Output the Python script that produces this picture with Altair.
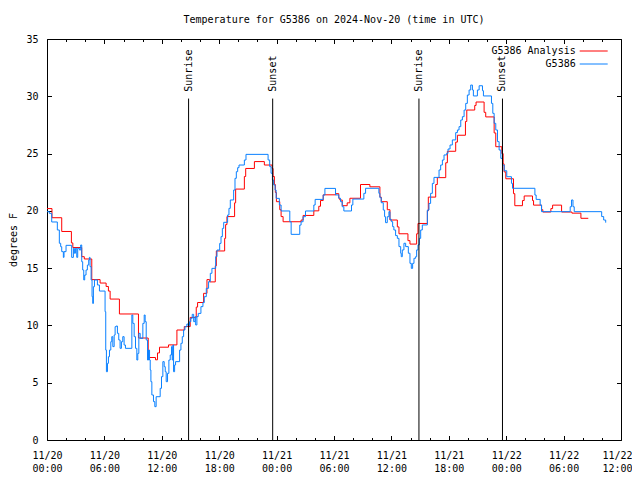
import altair as alt
import pandas as pd

FONT = "DejaVu Sans Mono"
TITLE = "Temperature for G5386 on 2024-Nov-20 (time in UTC)"
Y_TITLE = "degrees F"

series_names = ["G5386 Analysis", "G5386"]
series_colors = ["#ff0000", "#0a80ff"]

# hours since 2024-11-20 00:00 UTC, temperature in degrees F (step changes)
red_hours = [0, 0.52, 1.54, 2.55, 2.7, 3.63, 3.9, 4.68, 5.55, 6.18, 6.42, 6.6, 7.57, 9.56,
             10.58, 11.34, 11.55, 11.76, 12.7, 13.58, 14.35, 14.97, 15.6, 15.74, 16.37, 16.72,
             17.0, 17.59, 17.7, 18.57, 18.67, 18.81, 19.61, 19.72, 20.63, 20.77, 21.68, 22.72,
             23.53, 23.63, 23.77, 23.87, 23.98, 24.33, 24.47, 24.68, 26.56, 26.77, 27.89, 28.41,
             28.59, 28.87, 30.19, 30.5, 30.61, 30.86, 31.38, 31.66, 32.77, 33.75, 34.8, 34.94,
             35.57, 35.85, 36.62, 36.79, 37.73, 37.94, 38.64, 38.78, 39.76, 39.86, 40.63, 40.8,
             41.68, 41.85, 42.72, 42.9, 43.74, 43.88, 44.71, 44.85, 45.69, 45.86, 46.74, 46.91,
             47.54, 47.68, 47.78, 47.96, 48.76, 48.9, 49.7, 49.88, 50.75, 50.86, 51.7, 51.83,
             52.67, 52.85, 53.79, 54.87, 55.81, 56.58]
red_temps = [20.2, 19.4, 18.2, 17.2, 16.8, 16.0, 15.8, 14.0, 13.7, 13.4, 13.0, 12.3, 11.0, 8.9,
             7.2, 7.0, 7.6, 8.1, 8.3, 9.6, 9.9, 10.7, 11.6, 12.0, 12.8, 14.0,
             13.8, 15.2, 16.5, 17.6, 18.8, 19.5, 20.7, 21.9, 23.0, 23.7, 24.3, 24.0,
             23.7, 23.0, 22.3, 21.6, 20.8, 20.1, 19.5, 19.05, 19.2, 19.6, 20.0, 20.4,
             20.9, 21.4, 21.5, 21.1, 20.95, 20.45, 20.7, 21.1, 22.3, 22.1, 21.2, 20.8,
             20.1, 19.2, 18.6, 18.0, 17.4, 17.1, 18.0, 18.9, 20.0, 21.2, 22.3, 22.9,
             24.2, 25.2, 26.0, 26.6, 27.8, 28.8, 29.2, 29.5, 28.6, 28.2, 26.8, 25.6,
             25.0, 24.1, 23.4, 22.8, 21.5, 20.45, 20.9, 21.3, 20.9, 20.5, 20.1, 19.9,
             20.2, 20.5, 19.9, 19.8, 19.35, 19.35]

blue_hours = [0, 0.24, 0.49, 1.08, 1.29, 1.43, 1.54, 1.71, 1.78, 1.99, 2.58, 2.76, 2.86, 2.97,
              3.11, 3.21, 3.39, 3.52, 3.63, 3.73, 3.84, 3.94, 4.08, 4.22, 4.36, 4.43, 4.5, 4.61,
              4.71, 4.78, 4.85, 4.96, 5.27, 5.48, 6.07, 6.14, 6.21, 6.32, 6.42, 6.53, 6.67, 6.77,
              6.88, 7.02, 7.12, 7.23, 7.36, 7.5, 7.64, 7.78, 7.92, 8.06, 8.2, 8.87, 8.97, 9.11,
              9.25, 9.39, 9.49, 9.6, 9.74, 10.02, 10.16, 10.26, 10.37, 10.51, 10.61, 10.72, 10.79,
              10.86, 10.96, 11.13, 11.27, 11.41, 11.83, 11.97, 12.11, 12.25, 12.36, 12.46, 12.6,
              12.74, 12.88, 13.02, 13.09, 13.16, 13.23, 13.34, 13.44, 13.86, 14.0, 14.14, 14.28,
              14.42, 14.62, 14.76, 14.9, 15.04, 15.18, 15.33, 15.47, 15.54, 15.67, 15.81,
              16.09, 16.3, 16.44, 16.65, 16.89, 17.07, 17.24, 17.63, 17.77, 18.05, 18.19, 18.33,
              18.47, 18.88, 19.02, 19.16, 19.51, 19.65, 19.79, 19.93, 20.07, 20.63, 20.8, 23.11,
              23.28, 23.42, 23.56, 23.7, 23.84, 23.95, 24.29, 24.47, 25.38, 25.52, 26.42, 26.56,
              26.77, 27.02, 27.89, 28.03, 28.87, 29.05,
              30.16, 30.5, 30.68, 30.86, 31.03, 31.83, 31.97, 33.12, 33.3, 34.69, 34.8, 34.94,
              35.15, 35.29, 35.39, 35.57, 35.74, 35.85, 35.99, 36.13, 36.26, 36.44, 36.62, 36.79,
              36.97, 37.03, 37.14, 37.31, 37.49, 37.77, 37.94, 38.08, 38.22, 38.36, 38.53, 38.64,
              38.78, 38.92, 39.06, 39.23, 39.76, 39.93, 40.1, 40.28, 40.45, 40.98, 41.15, 41.33,
              41.5, 41.78, 41.92, 42.13, 42.37, 42.72, 42.9, 43.07, 43.25, 43.42, 43.6, 43.77,
              43.94, 44.12, 44.29, 44.47, 44.57, 44.99, 45.17, 45.52, 45.62, 46.46, 46.6, 46.74,
              46.91, 47.09, 47.26, 47.44, 47.61, 47.79, 48.06, 48.55, 48.66, 51.0, 51.13, 51.55,
              51.69, 54.69, 54.83, 54.98, 55.11, 57.98, 58.19, 58.4]
blue_temps = [19.93, 19.78, 19.03, 18.33, 17.17, 16.87, 16.44, 15.94, 16.44, 16.99, 15.94, 16.73, 16.3, 16.73,
              15.94, 16.73, 16.58, 17.02, 15.56, 14.84, 13.97, 14.4, 14.84, 15.27, 15.71, 15.94, 15.13, 13.97,
              12.51, 11.92, 13.38, 13.97, 13.53, 13.0, 11.2, 7.85, 5.96, 6.69, 7.27, 7.85, 8.58, 9.02,
              8.15, 9.16, 9.89, 9.95, 9.31, 8.73, 8.0, 8.58, 9.02, 8.29, 8.0, 10.91, 10.18, 9.02,
              8.0, 6.98, 7.56, 9.31, 8.87, 10.18, 10.91, 10.33, 8.73, 6.98, 7.85, 6.98, 6.11,
              5.09, 3.93, 3.35, 2.91, 3.78, 4.51, 5.53, 6.84, 6.4, 5.96, 5.09, 5.82,
              6.98, 7.42, 8.15, 6.98, 8.29, 5.96, 6.55, 6.84, 7.85, 8.44, 9.02, 9.6,
              9.89, 10.12, 9.98, 10.33, 10.62, 10.97, 10.33, 10.77, 10.04, 10.77, 11.05,
              11.64, 11.99, 12.51, 13.24, 13.82, 14.55, 14.98, 16.0, 16.58, 17.16, 17.75, 18.47,
              19.0, 19.64, 20.22, 20.95, 21.82, 22.84, 23.42, 23.77, 24.0, 24.44, 24.93, 24.44,
              23.86, 23.28, 22.69, 22.26, 21.82, 21.09, 20.51, 19.99, 19.05, 17.95, 18.76, 19.05,
              19.49, 19.99, 20.51, 21.0, 21.38, 21.96,
              21.39, 21.1, 20.8, 20.36, 19.99, 20.51, 21.03, 21.53, 21.97, 21.53, 21.15, 20.71,
              20.07, 19.49, 18.97, 19.49, 19.93, 19.26, 19.06, 18.62, 18.33, 17.84, 17.6, 16.88,
              16.3, 16.0, 16.59, 17.17, 16.88, 16.3, 15.42, 14.98, 15.42, 15.86, 16.0, 16.59,
              17.03, 17.6, 18.33, 18.77, 20.07, 20.65, 21.53, 22.4, 22.92, 23.57, 24.0, 24.44,
              24.88, 25.02, 25.4, 25.75, 26.19, 26.83, 27.06, 27.35, 27.93, 28.22, 28.8, 29.38,
              30.11, 30.55, 30.98, 30.55, 30.03, 30.55, 30.92, 30.49, 30.03, 29.38, 28.51, 27.64,
              27.06, 26.04, 25.31, 24.58, 24.0, 23.5, 22.98, 22.4, 21.97, 21.38, 21.0, 20.51,
              19.93, 20.36, 20.95, 20.36, 19.93, 19.5, 19.2, 18.97]

sun_events = ["Sunrise", "Sunset", "Sunrise", "Sunset"]
sun_hours = [14.8, 23.59, 38.88, 47.61]
sun_line_top = 29.8
sun_label_y = 30.4

x_label_ticks = list(range(0, 61, 6))
x_minor_ticks = list(range(0, 61, 2))
y_ticks = list(range(0, 36, 5))

W, H = 574, 401

df = pd.concat([
    pd.DataFrame({"hours": red_hours, "temp": red_temps, "series": series_names[0]}),
    pd.DataFrame({"hours": blue_hours, "temp": blue_temps, "series": series_names[1]}),
], ignore_index=True)
sun_df = pd.DataFrame({"hours": sun_hours, "event": sun_events,
                       "base": 0.0, "top": sun_line_top, "label_y": sun_label_y})

xscale = alt.Scale(domain=[0, 60], nice=False, zero=False)
yscale = alt.Scale(domain=[0, 35], nice=False, zero=True)

major_minor = {"condition": {"test": "datum.value % 6 === 0", "value": 4.5}, "value": 2.5}
last_label_shift = {"condition": {"test": "datum.value >= 60", "value": -4}, "value": 0}

label_expr = ("['11/' + (20 + floor(datum.value / 24)), "
              "(datum.value % 24 < 10 ? '0' : '') + (datum.value % 24) + ':00']")

color = alt.Color(
    "series:N",
    scale=alt.Scale(domain=series_names, range=series_colors),
    sort=series_names,
    legend=alt.Legend(
        title=None, orient="none", legendX=518.7, legendY=7, padding=0,
        symbolType="M4.5,0H18.5", symbolSize=16, symbolStrokeWidth=1,
        labelAlign="right", labelOffset=0, rowPadding=3,
        labelFont=FONT, labelFontSize=10, labelColor="black",
    ),
)

base = alt.Chart(df)

red = base.transform_filter(alt.datum.series == series_names[0]).mark_line(
    interpolate="step-after", strokeWidth=1
).encode(
    x=alt.X("hours:Q", scale=xscale, axis=alt.Axis(
        values=x_label_ticks, labelExpr=label_expr, ticks=False, domain=False, grid=False,
        labelPadding=10, labelLineHeight=13, labelBaseline="top", title=None,
        labelFlush=False, labelOverlap=False, labelOffset=last_label_shift)),
    y=alt.Y("temp:Q", scale=yscale, axis=alt.Axis(
        values=y_ticks, ticks=False, domain=False, grid=False, labelPadding=9,
        title=Y_TITLE, titleX=-34, titleY=H / 2, titleAngle=270, titleAlign="center",
        titleBaseline="middle", labelFlush=False)),
    color=color,
)

blue = base.transform_filter(alt.datum.series == series_names[1]).mark_line(
    interpolate="step-after", strokeWidth=1
).encode(
    x=alt.X("hours:Q", scale=xscale, axis=alt.Axis(
        orient="top", offset=-H, values=x_minor_ticks, labels=False, domain=False,
        grid=False, title=None, tickSize=major_minor, tickColor="black")),
    y=alt.Y("temp:Q", scale=yscale, axis=alt.Axis(
        orient="right", offset=-W, values=y_ticks, labels=False, domain=False,
        grid=False, title=None, tickSize=4.5, tickColor="black")),
    color=color,
)

rules = alt.Chart(sun_df).mark_rule(color="black", strokeWidth=1).encode(
    x=alt.X("hours:Q", scale=xscale, axis=alt.Axis(
        orient="bottom", offset=-H, values=x_minor_ticks, labels=False, domain=False,
        grid=False, title=None, tickSize=major_minor, tickColor="black")),
    y=alt.Y("base:Q", scale=yscale, axis=alt.Axis(
        orient="left", offset=-W, values=y_ticks, labels=False, domain=False,
        grid=False, title=None, tickSize=4.5, tickColor="black")),
    y2="top:Q",
)

labels = alt.Chart(sun_df).mark_text(
    angle=270, align="left", baseline="middle", font=FONT, fontSize=10, color="black"
).encode(
    x=alt.X("hours:Q", scale=xscale, axis=None),
    y=alt.Y("label_y:Q", scale=yscale, axis=None),
    text="event:N",
)

chart = alt.layer(red, blue, rules, labels).resolve_axis(
    x="independent", y="independent"
).properties(
    width=W, height=H,
    title=alt.Title(TITLE, font=FONT, fontSize=10, fontWeight="normal", color="black",
                    anchor="middle", offset=9),
    autosize=alt.AutoSizeParams(type="none"),
    padding={"left": 39, "top": 31, "right": 11, "bottom": 32},
).configure_view(
    stroke="black", strokeWidth=1
).configure_axis(
    labelFont=FONT, labelFontSize=10, labelColor="black",
    titleFont=FONT, titleFontSize=10, titleColor="black", titleFontWeight="normal",
)

chart.save("out.html", embed_options={"renderer": "svg", "actions": False})
